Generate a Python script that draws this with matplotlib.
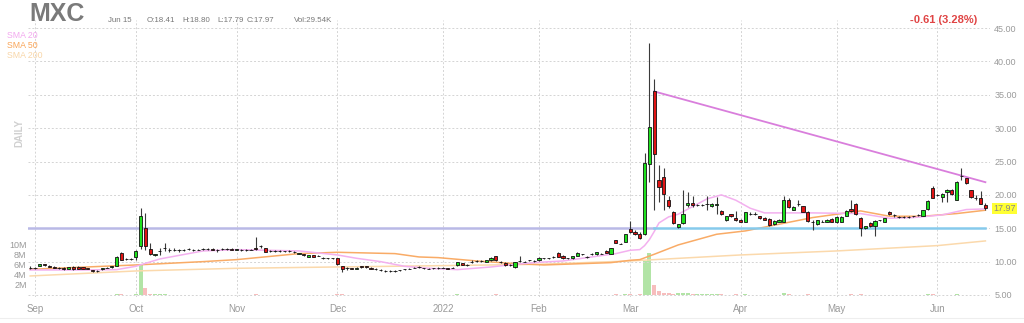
import matplotlib.pyplot as plt
import matplotlib.transforms as mtransforms
from matplotlib.lines import Line2D
import numpy as np

plt.rcParams['font.family'] = ['Liberation Sans', 'DejaVu Sans']

DPI = 100
W, H = 1024, 323

month_labels = ['Sep', 'Oct', 'Nov', 'Dec', '2022', 'Feb', 'Mar', 'Apr', 'May', 'Jun']
month_starts = [0, 21, 42, 63, 85, 105, 124, 147, 167, 188]  # trading-day index

# daily candles, Aug 31 2021 .. Jun 15 2022 (index -1 .. 198), 10 per row
opens = [
    9.10, 9.10, 9.40, 9.65, 9.30, 9.15, 9.00, 9.00, 8.90, 9.25,
    9.20, 9.20, 9.00, 8.70, 8.65, 8.85, 9.05, 9.20, 9.40, 11.25,
    10.40, 10.40, 10.65, 12.30, 15.00, 11.90, 11.00, 11.60, 12.00, 11.80,
    11.80, 11.70, 11.75, 11.85, 11.80, 11.80, 11.85, 11.90, 11.85, 11.70,
    11.90, 11.90, 11.85, 11.75, 11.80, 11.80, 11.80, 12.10, 12.40, 12.00,
    11.60, 11.60, 11.60, 11.55, 11.60, 11.45, 11.15, 11.10, 10.70, 11.00,
    10.90, 10.55, 10.50, 10.50, 10.50, 9.30, 9.00, 9.05, 8.95, 9.30,
    9.30, 9.10, 8.95, 8.75, 8.60, 8.55, 8.60, 8.70, 8.85, 8.95,
    9.10, 9.20, 9.05, 8.95, 9.00, 9.05, 9.05, 9.00, 9.10, 9.45,
    9.80, 9.50, 10.00, 10.10, 10.10, 10.00, 10.20, 10.80, 10.00, 9.85,
    9.50, 9.15, 10.10, 10.00, 10.20, 10.10, 10.20, 10.50, 10.50, 10.70,
    11.30, 10.90, 10.50, 10.50, 10.90, 11.10, 10.70, 11.10, 11.10, 11.20,
    11.60, 11.20, 13.20, 12.70, 13.00, 14.90, 14.50, 14.20, 14.20, 24.70,
    35.50, 22.30, 22.70, 19.30, 17.50, 15.20, 15.80, 18.50, 18.80, 18.50,
    18.50, 18.60, 18.30, 18.50, 17.60, 16.20, 17.10, 16.50, 16.30, 16.00,
    17.20, 17.20, 16.80, 16.60, 16.40, 15.60, 16.00, 16.00, 19.30, 17.80,
    18.60, 18.30, 17.50, 16.00, 15.60, 16.00, 16.00, 16.40, 15.90, 16.00,
    16.90, 17.90, 18.70, 16.60, 15.00, 15.80, 15.40, 16.20, 16.00, 17.40,
    17.00, 16.70, 16.70, 16.70, 16.80, 17.00, 16.90, 17.90, 21.10, 20.00,
    19.70, 20.40, 20.80, 19.30, 22.80, 22.50, 20.70, 19.50, 19.60, 18.41,
]
highs = [
    9.30, 9.25, 9.70, 9.70, 9.45, 9.35, 9.20, 9.15, 9.25, 9.30,
    9.30, 9.25, 9.10, 8.80, 8.75, 9.10, 9.20, 9.40, 10.80, 11.50,
    10.50, 10.50, 11.80, 18.00, 17.30, 12.80, 11.20, 12.00, 12.80, 12.10,
    12.00, 11.90, 11.90, 12.00, 11.90, 11.95, 12.00, 12.10, 12.00, 11.90,
    12.05, 12.00, 12.00, 11.95, 11.90, 11.90, 11.95, 13.70, 12.50, 12.10,
    11.70, 11.70, 11.70, 11.65, 11.70, 11.60, 11.35, 11.15, 11.00, 11.05,
    11.00, 10.65, 10.60, 10.60, 10.60, 9.40, 9.20, 9.10, 9.15, 9.40,
    9.35, 9.15, 9.00, 8.85, 8.70, 8.70, 8.70, 8.80, 8.95, 9.05,
    9.20, 9.30, 9.10, 9.05, 9.10, 9.15, 9.20, 9.10, 9.20, 10.00,
    9.85, 9.60, 10.20, 10.20, 10.20, 10.30, 10.70, 10.90, 10.10, 9.90,
    9.60, 9.90, 10.80, 10.10, 10.30, 10.20, 10.65, 10.60, 10.60, 10.90,
    11.50, 11.00, 10.60, 10.85, 11.40, 11.20, 10.80, 11.30, 11.45, 11.30,
    11.70, 12.10, 13.30, 12.80, 14.20, 16.10, 14.70, 14.40, 26.30, 42.80,
    37.30, 24.50, 24.00, 19.80, 17.60, 15.70, 20.70, 20.50, 19.80, 18.70,
    18.70, 19.80, 18.80, 19.70, 17.70, 16.90, 17.20, 17.60, 16.40, 17.50,
    17.40, 17.40, 16.90, 16.70, 16.50, 16.20, 16.40, 19.80, 19.50, 18.30,
    19.20, 18.40, 17.60, 16.20, 16.30, 16.20, 16.40, 16.50, 16.80, 16.80,
    17.70, 19.30, 18.80, 16.70, 15.40, 15.90, 16.20, 16.30, 16.60, 17.60,
    17.10, 16.90, 16.80, 16.80, 16.90, 17.10, 17.80, 19.20, 21.40, 20.10,
    20.30, 20.90, 20.90, 22.10, 24.10, 22.60, 20.80, 20.00, 20.60, 18.80,
]
lows = [
    8.90, 8.90, 9.35, 9.40, 9.15, 9.00, 8.85, 8.80, 8.85, 8.80,
    8.90, 8.85, 8.85, 8.50, 8.50, 8.80, 9.00, 9.10, 9.35, 10.20,
    10.25, 10.30, 10.20, 11.90, 11.70, 11.00, 10.90, 11.00, 11.60, 11.50,
    11.60, 11.50, 11.60, 11.70, 11.60, 11.70, 11.70, 11.80, 11.70, 11.40,
    11.80, 11.70, 11.70, 11.70, 11.60, 11.65, 11.70, 11.80, 12.00, 11.40,
    11.50, 11.50, 11.50, 11.45, 11.50, 11.30, 11.10, 10.90, 10.65, 10.70,
    10.80, 10.45, 10.40, 10.40, 9.50, 8.40, 8.80, 8.90, 8.90, 9.10,
    9.10, 8.85, 8.80, 8.60, 8.45, 8.50, 8.50, 8.60, 8.75, 8.85,
    9.00, 9.10, 8.90, 8.85, 8.90, 8.95, 9.00, 8.85, 9.00, 9.40,
    9.50, 9.40, 9.80, 10.00, 9.95, 9.95, 10.15, 10.15, 9.85, 9.40,
    9.40, 9.10, 10.00, 9.90, 10.10, 10.00, 10.15, 10.40, 10.40, 10.60,
    10.65, 10.45, 10.40, 10.45, 10.85, 11.00, 10.60, 11.00, 11.05, 11.10,
    11.25, 11.15, 12.80, 12.60, 12.90, 14.30, 14.00, 13.40, 14.00, 22.00,
    17.70, 19.00, 17.70, 18.00, 15.60, 15.10, 15.60, 18.20, 18.20, 18.30,
    18.30, 17.80, 18.20, 17.20, 17.00, 16.10, 16.70, 16.10, 15.90, 15.90,
    17.00, 17.00, 16.40, 16.20, 15.40, 15.50, 15.90, 15.90, 18.10, 17.70,
    18.40, 17.40, 16.00, 14.70, 15.50, 15.90, 15.90, 15.90, 15.80, 15.90,
    16.80, 17.50, 17.00, 13.80, 14.90, 15.20, 13.80, 16.10, 15.90, 17.00,
    16.70, 16.50, 16.50, 16.50, 16.70, 16.90, 16.80, 17.80, 19.50, 19.90,
    19.00, 19.00, 20.00, 19.20, 22.30, 21.70, 19.60, 19.20, 18.60, 17.79,
]
closes = [
    9.10, 9.05, 9.60, 9.45, 9.25, 9.10, 9.00, 8.95, 9.20, 8.85,
    8.95, 8.90, 8.95, 8.65, 8.65, 9.05, 9.10, 9.30, 10.75, 10.30,
    10.35, 10.40, 11.60, 16.85, 12.30, 11.10, 11.10, 11.60, 12.00, 11.80,
    11.80, 11.70, 11.80, 11.85, 11.75, 11.80, 11.85, 11.90, 11.80, 11.70,
    11.95, 11.90, 11.80, 11.85, 11.80, 11.75, 11.80, 11.95, 12.35, 11.45,
    11.60, 11.55, 11.60, 11.60, 11.55, 11.45, 11.30, 10.95, 10.95, 10.75,
    10.90, 10.55, 10.50, 10.50, 9.60, 8.85, 9.00, 8.95, 9.05, 9.25,
    9.20, 8.90, 8.95, 8.75, 8.60, 8.65, 8.60, 8.70, 8.85, 8.95,
    9.10, 9.20, 9.00, 8.95, 9.00, 9.05, 9.10, 8.95, 9.10, 9.90,
    9.55, 9.50, 10.00, 10.10, 10.10, 10.25, 10.60, 10.20, 10.00, 9.45,
    9.50, 9.90, 10.10, 10.00, 10.20, 10.10, 10.60, 10.50, 10.50, 10.70,
    10.70, 10.50, 10.50, 10.80, 11.30, 11.10, 10.70, 11.10, 11.40, 11.20,
    11.30, 12.00, 12.85, 12.70, 14.10, 14.40, 14.10, 13.50, 24.80, 30.10,
    26.10, 21.20, 20.10, 18.30, 15.80, 15.60, 17.20, 18.80, 18.50, 18.50,
    18.50, 18.60, 18.70, 18.70, 17.10, 16.80, 16.85, 16.20, 16.00, 17.40,
    17.20, 17.20, 16.50, 16.30, 15.50, 16.10, 16.30, 19.20, 18.20, 18.20,
    18.60, 17.50, 16.10, 16.00, 16.20, 16.00, 16.30, 16.00, 16.70, 16.70,
    17.60, 17.60, 17.10, 15.00, 15.30, 15.30, 16.10, 16.20, 16.50, 17.10,
    17.00, 16.70, 16.70, 16.70, 16.80, 17.00, 17.70, 19.10, 19.60, 20.00,
    20.20, 20.80, 20.10, 22.00, 22.80, 21.80, 19.70, 19.50, 18.70, 17.97,
]
# volume in millions
volumes = [
    0.08, 0.10, 0.07, 0.06, 0.08, 0.05, 0.06, 0.07, 0.05, 0.06,
    0.05, 0.07, 0.06, 0.05, 0.08, 0.06, 0.07, 0.09, 0.25, 0.15,
    0.08, 0.07, 0.15, 6.00, 1.40, 0.30, 0.15, 0.12, 0.15, 0.10,
    0.08, 0.07, 0.06, 0.08, 0.07, 0.06, 0.05, 0.06, 0.07, 0.06,
    0.05, 0.06, 0.05, 0.06, 0.05, 0.05, 0.06, 0.25, 0.10, 0.08,
    0.06, 0.05, 0.05, 0.06, 0.05, 0.06, 0.07, 0.06, 0.08, 0.06,
    0.05, 0.06, 0.05, 0.05, 0.12, 0.15, 0.08, 0.06, 0.05, 0.06,
    0.05, 0.07, 0.05, 0.06, 0.05, 0.05, 0.06, 0.05, 0.05, 0.06,
    0.05, 0.06, 0.05, 0.04, 0.05, 0.04, 0.06, 0.05, 0.05, 0.12,
    0.08, 0.05, 0.07, 0.06, 0.05, 0.06, 0.10, 0.12, 0.06, 0.08,
    0.05, 0.10, 0.08, 0.05, 0.06, 0.05, 0.08, 0.06, 0.05, 0.06,
    0.10, 0.07, 0.05, 0.06, 0.08, 0.05, 0.06, 0.05, 0.07, 0.05,
    0.07, 0.10, 0.12, 0.06, 0.15, 0.20, 0.10, 0.12, 6.90, 8.50,
    2.00, 0.80, 0.45, 0.35, 0.30, 0.40, 0.45, 0.35, 0.20, 0.15,
    0.25, 0.20, 0.12, 0.15, 0.12, 0.10, 0.10, 0.12, 0.10, 0.15,
    0.08, 0.07, 0.08, 0.07, 0.10, 0.08, 0.08, 0.35, 0.20, 0.10,
    0.08, 0.10, 0.12, 0.10, 0.07, 0.05, 0.06, 0.05, 0.08, 0.07,
    0.10, 0.12, 0.10, 0.15, 0.08, 0.07, 0.10, 0.05, 0.06, 0.08,
    0.05, 0.04, 0.04, 0.05, 0.04, 0.05, 0.08, 0.12, 0.15, 0.08,
    0.07, 0.08, 0.06, 0.12, 0.10, 0.08, 0.07, 0.05, 0.06, 0.03,
]

# moving averages at a few days
sma20_days = [-1, 10, 17, 21, 26, 35, 42, 55, 59, 63, 67, 72, 77, 82, 88, 95, 100, 105,
              110, 116, 121, 124, 126, 127, 128, 129, 130, 132, 134, 140, 143, 146, 149,
              152, 162, 172, 178, 183, 189, 194, 198]
sma20_vals = [8.75, 8.75, 8.8, 9.3, 10.4, 11.6, 11.8, 11.6, 11.3, 11.0, 10.5, 10.0, 9.3,
              9.0, 8.8, 9.2, 9.6, 9.9, 10.1, 10.7, 11.2, 11.7, 11.8, 12.4, 13.3, 14.5,
              15.8, 16.7, 17.1, 19.4, 20.0, 19.2, 18.0, 17.3, 17.3, 17.2, 16.5, 16.6,
              17.0, 17.8, 17.9]
sma50_days = [-1, 21, 35, 42, 55, 63, 75, 80, 84, 92, 99, 106, 120, 124, 126, 129, 134,
              142, 148, 155, 162, 169, 172, 178, 185, 192, 198]
sma50_vals = [8.85, 9.5, 10.0, 10.3, 11.2, 11.4, 11.2, 10.7, 10.6, 10.1, 9.75, 9.5, 9.85,
              10.2, 10.3, 11.1, 12.5, 14.1, 14.6, 15.6, 16.6, 17.3, 17.6, 16.8, 16.8,
              17.2, 17.7]
sma200_days = [-1, 21, 42, 63, 85, 105, 124, 147, 167, 188, 198]
sma200_vals = [7.85, 8.6, 9.0, 9.2, 9.4, 9.6, 10.1, 11.0, 11.6, 12.4, 13.1]

trend_days = [129, 198]
trend_vals = [35.5, 21.9]
support_level = 15.0

days = np.arange(len(opens)) - 1
o = np.array(opens)
c = np.array(closes)

fig = plt.figure(dpi=DPI, figsize=(W / DPI, H / DPI))
ax = fig.add_axes([28 / W, 1 - 297 / H, (990 - 28) / W, (297 - 20) / H])
vax = ax.twinx()
ax.set_zorder(2)
ax.patch.set_visible(False)
vax.set_zorder(1)

XL = (-1.46, 198.96)
ax.set_xlim(*XL)
ax.set_ylim(4.7, 46.2)
vax.set_ylim(-0.4, 55)

grid_c = '#d4d4d4'
for m in month_starts:
    ax.axvline(m, color=grid_c, lw=0.7, ls=(0, (2, 2)), zorder=0)
for p in range(5, 50, 5):
    ax.axhline(p, color=grid_c, lw=0.7, ls=(0, (2, 2)), zorder=0)

# volume
vcol = np.where(c >= o, '#b2e4a6', '#f7bdbd')
vax.bar(days, volumes, width=0.85, color=vcol, linewidth=0)

# moving averages, levels
ax.plot(sma200_days, sma200_vals, color='#fbd9ac', lw=1.1, zorder=2)
ax.plot(sma50_days, sma50_vals, color='#f9ab66', lw=1.1, zorder=2)
ax.plot(sma20_days, sma20_vals, color='#f3b0ef', lw=1.1, zorder=2)
ax.plot([XL[0], trend_days[0]], [support_level] * 2, color='#b9b9e6', lw=1.8, zorder=2)
ax.plot([trend_days[0], trend_days[1]], [support_level] * 2, color='#86caec', lw=1.8, zorder=2)
ax.plot(trend_days, trend_vals, color='#d97edc', lw=1.3, zorder=2)

# candles
ccol = np.where(c > o, '#1ee01e', np.where(c < o, '#e01414', '#333333'))
ax.vlines(days, lows, highs, color='#3a3a3a', lw=0.8, zorder=3)
ax.bar(days, np.abs(c - o), bottom=np.minimum(o, c), width=0.7, color=ccol,
       edgecolor='#111111', linewidth=0.6, zorder=4)

for a in (ax, vax):
    for s in a.spines.values():
        s.set_visible(False)

ax.yaxis.tick_right()
ax.set_yticks(range(5, 50, 5), ['%.2f' % p for p in range(5, 50, 5)])
ax.tick_params(axis='y', length=0, pad=3, labelsize=6.5, labelcolor='#9a9a9a')
ax.set_xticks(month_starts, month_labels)
ax.tick_params(axis='x', length=0, pad=5, labelsize=7, labelcolor='#9a9a9a')

vax.yaxis.tick_left()
vax.set_yticks([2, 4, 6, 8, 10], ['2M', '4M', '6M', '8M', '10M'])
vax.tick_params(axis='y', length=0, pad=1, labelsize=6.5, labelcolor='#9a9a9a')

# last price tag
tr = mtransforms.blended_transform_factory(ax.transAxes, ax.transData)
ax.text(1.0035, closes[-1], '%.2f' % closes[-1], transform=tr, fontsize=6.5,
        color='#888888', va='center', ha='left',
        bbox=dict(boxstyle='square,pad=0.15', fc='#ffff33', ec='none'))

# header texts
def ftext(x, y, s, **kw):
    fig.text(x / W, 1 - y / H, s, va='center', **kw)

ftext(29, 14, 'MXC', fontsize=18, weight='bold', color='#7a7a7a')
hdr = [(108, 'Jun 15'), (147, 'O:18.41'), (182, 'H:18.80'), (217, 'L:17.79'),
       (247, 'C:17.97'), (294, 'Vol:29.54K')]
for hx, s in hdr:
    ftext(hx, 20, s, fontsize=5.7, color='#777777')
ftext(977, 20, '-0.61 (3.28%)', fontsize=8, weight='bold', color='#e04444', ha='right')
ftext(7, 35, 'SMA 20', fontsize=6.3, color='#f3a8ef')
ftext(7, 45, 'SMA 50', fontsize=6.3, color='#f9a558')
ftext(7, 55, 'SMA 200', fontsize=6.3, color='#f8d6a8')
fig.text(19 / W, 1 - 133 / H, 'DAILY', rotation=90, fontsize=7, weight='bold',
         color='#d0d0d0', ha='center', va='center')
fig.add_artist(Line2D([0, 1], [1 - 318 / H] * 2, color='#eeeeee', lw=0.8))

fig.savefig('out.png', dpi=DPI)
